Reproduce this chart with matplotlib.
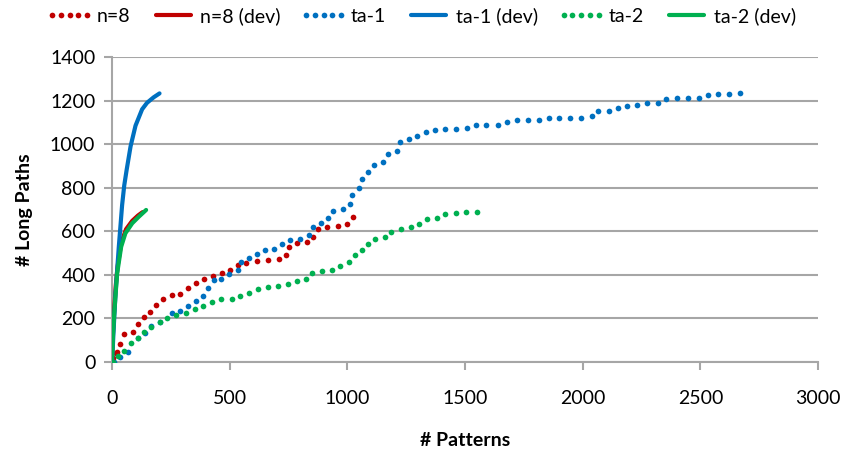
import matplotlib
matplotlib.use("Agg")
import matplotlib.pyplot as plt

RED = "#C00000"
BLUE = "#0070C0"
GREEN = "#00B050"
GRID = "#a6a6a6"

# dotted series
n8_x = [5, 15, 22, 36, 50, 90, 111, 135, 163, 189, 217, 253, 287, 322, 355, 391, 428, 468, 503,
        536, 571, 617, 662, 708, 740, 751, 786, 829, 854, 874, 915, 959, 999, 1024]
n8_y = [18, 40, 47, 83, 129, 136, 173, 208, 231, 262, 288, 308, 311, 338, 361, 381, 397, 407, 422,
        445, 456, 464, 467, 471, 490, 529, 548, 551, 575, 610, 620, 626, 635, 666]

ta1_x = [8, 36, 67, 110, 139, 166, 203, 253, 291, 323, 357, 386, 407, 432, 465, 499, 534, 549, 581,
         616, 649, 690, 723, 755, 800, 836, 854, 888, 916, 939, 980, 1010, 1021, 1048, 1062, 1088,
         1112, 1151, 1171, 1212, 1225, 1262, 1298, 1335, 1372, 1417, 1463, 1508, 1545, 1591, 1640,
         1678, 1720, 1767, 1814, 1855, 1900, 1947, 1995, 2039, 2067, 2114, 2149, 2189, 2233, 2275,
         2322, 2354, 2400, 2447, 2493, 2534, 2575, 2623, 2667]
ta1_y = [1, 21, 44, 109, 135, 165, 185, 226, 236, 258, 281, 303, 338, 376, 382, 402, 422, 460, 476,
         494, 514, 519, 542, 560, 566, 583, 621, 636, 659, 695, 702, 725, 768, 797, 840, 872,
         906, 918, 956, 967, 1008, 1025, 1039, 1054, 1066, 1068, 1071, 1074, 1089, 1089, 1089,
         1103, 1109, 1109, 1109, 1120, 1121, 1121, 1121, 1127, 1150, 1152, 1167, 1176, 1181, 1189,
         1189, 1208, 1210, 1210, 1213, 1224, 1229, 1229, 1233]

ta2_x = [3, 25, 50, 81, 110, 138, 166, 203, 234, 274, 316, 352, 387, 425, 465, 510, 546, 584, 621,
         663, 706, 746, 786, 826, 850, 893, 935, 970, 1007, 1031, 1062, 1086, 1116, 1158, 1187,
         1228, 1270, 1306, 1338, 1381, 1415, 1460, 1505, 1551]
ta2_y = [0, 28, 52, 86, 112, 138, 162, 182, 203, 216, 223, 245, 258, 274, 288, 291, 304, 318, 335,
         344, 349, 357, 372, 380, 407, 419, 424, 443, 460, 491, 512, 543, 565, 574, 595,
         610, 620, 633, 655, 662, 679, 685, 687, 689]

# solid "(dev)" series
n8dev_x = [0, 4, 10, 16, 24, 40, 60, 86, 110, 130]
n8dev_y = [0, 130, 250, 350, 440, 550, 610, 648, 672, 688]
ta1dev_x = [0, 3, 8, 15, 29, 43, 52, 62, 79, 100, 128, 149, 177, 202]
ta1dev_y = [0, 60, 170, 315, 529, 720, 810, 880, 990, 1085, 1160, 1190, 1215, 1233]
ta2dev_x = [0, 4, 10, 16, 22, 39, 57, 86, 114, 145]
ta2dev_y = [0, 120, 230, 320, 407, 529, 591, 637, 667, 698]

plt.rcParams["font.family"] = ["Lato", "DejaVu Sans"]

fig = plt.figure(figsize=(8.42, 4.54), dpi=100)
ax = fig.add_axes([0.133, 0.2026, 0.8385, 0.6718])

dot = dict(linestyle="none", marker="o", markersize=4.1, markeredgewidth=0)
solid = dict(linewidth=3.0, solid_capstyle="round", solid_joinstyle="round")

ax.plot(n8_x, n8_y, color=RED, label="n=8", **dot, zorder=3)
ax.plot(n8dev_x, n8dev_y, color=RED, label="n=8 (dev)", **solid, zorder=4)
ax.plot(ta1_x, ta1_y, color=BLUE, label="ta-1", **dot, zorder=3)
ax.plot(ta1dev_x, ta1dev_y, color=BLUE, label="ta-1 (dev)", **solid, zorder=4)
ax.plot(ta2_x, ta2_y, color=GREEN, label="ta-2", **dot, zorder=3)
ax.plot(ta2dev_x, ta2dev_y, color=GREEN, label="ta-2 (dev)", **solid, zorder=5)

ax.set_xlim(0, 3000)
ax.set_ylim(0, 1400)
ax.set_xticks(range(0, 3001, 500))
ax.set_yticks(range(0, 1401, 200))
ax.grid(axis="y", color=GRID, linewidth=1.5)
ax.set_axisbelow(True)
for s in ["top", "right"]:
    ax.spines[s].set_visible(False)
for s in ["left", "bottom"]:
    ax.spines[s].set_color(GRID)
    ax.spines[s].set_linewidth(1.5)
ax.tick_params(colors=GRID, labelcolor="black", labelsize=14, length=6, width=1.5)
ax.tick_params(axis="x", pad=14)
ax.tick_params(axis="y", pad=6)

ax.set_xlabel("# Patterns", fontsize=14, fontweight="bold", labelpad=18)
ax.set_ylabel("# Long Paths", fontsize=14, fontweight="bold", labelpad=12)

fig.legend(loc="center", bbox_to_anchor=(0.5, 0.965), ncol=6, frameon=False,
           fontsize=14, numpoints=5, handlelength=2.4, handletextpad=0.2,
           columnspacing=1.0, borderaxespad=0)

fig.savefig("out.png", dpi=100)
